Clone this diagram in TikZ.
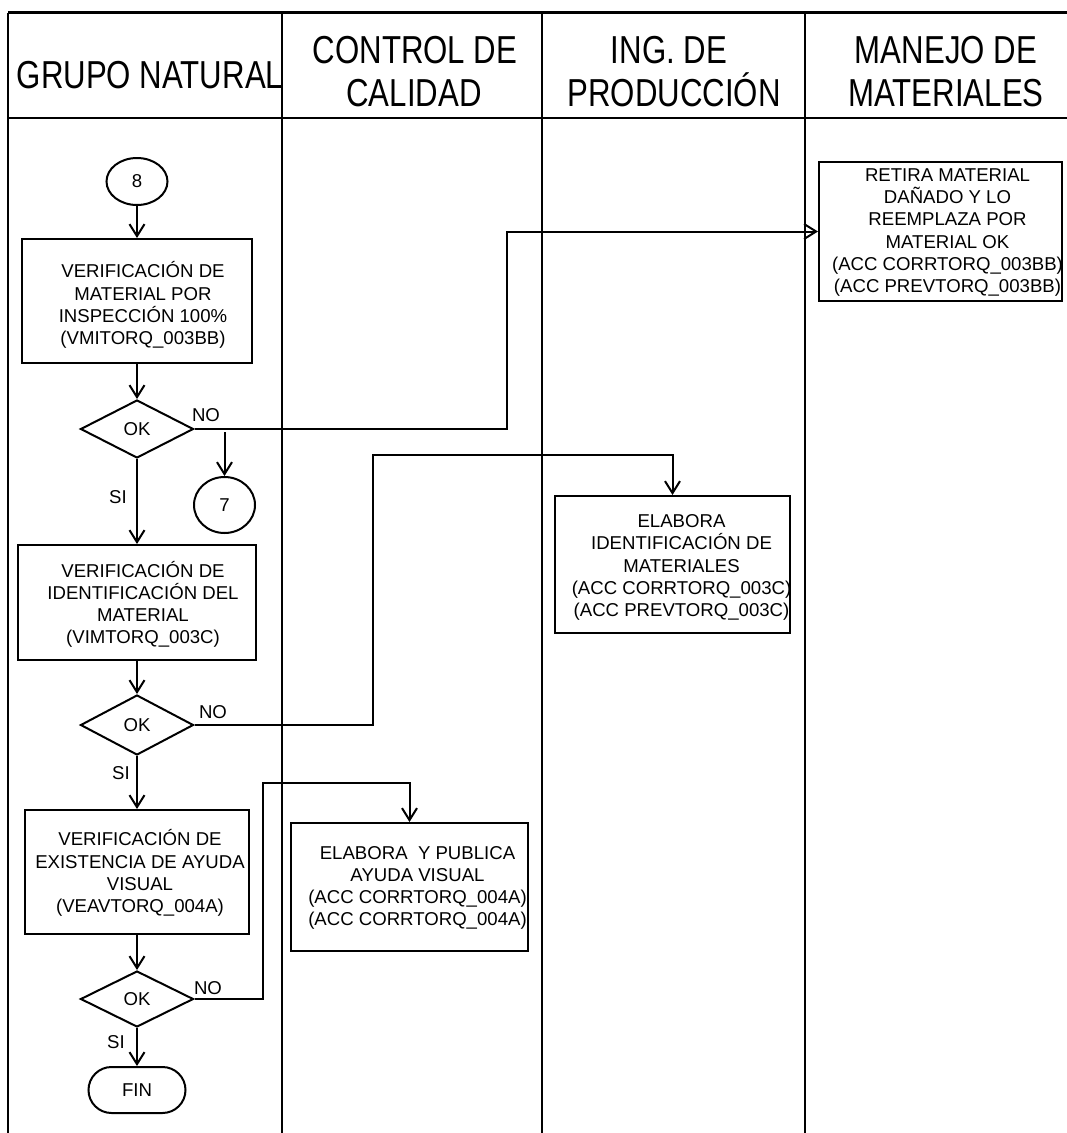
\documentclass[tikz,border=0pt]{standalone}
\usepackage{fontspec}
\setmainfont{Liberation Sans}
\newfontfamily\hdfont[FakeStretch=0.8]{Liberation Sans}
\usetikzlibrary{shapes.geometric,arrows.meta}

\tikzset{
  lane/.style={line width=2.2pt},
  head/.style={font=\hdfont\fontsize{39}{43}\selectfont, inner sep=0pt, anchor=base},
  txt/.style={font=\fontsize{18.6}{22.2}\selectfont},
  box/.style={draw, line width=2pt, rectangle, inner sep=0pt},
  boxtext/.style={txt, inner sep=0pt, align=center},
  deci/.style={txt, draw, line width=2pt, diamond, aspect=1.95, inner sep=0pt,
               minimum width=113pt, minimum height=58pt},
  conn/.style={txt, draw, line width=2pt, ellipse, inner sep=0pt, minimum width=61pt},
  term/.style={txt, draw, line width=2pt, rectangle, rounded corners=23pt, inner sep=0pt,
               minimum width=97pt, minimum height=46pt},
  lbl/.style={txt, inner sep=0pt},
  flow/.style={line width=2pt, -{Straight Barb[length=12pt,width=15pt,line width=2pt]}},
}

\begin{document}
\begin{tikzpicture}[x=1pt, y=-1pt]
\useasboundingbox (0,0) rectangle (1067,1133);

% swimlane grid
\draw[lane] (8,12.5) -- (1067,12.5);
\draw[lane] (8,118) -- (1067,118);
\foreach \xl in {8,282,542,805} \draw[lane] (\xl,12.5) -- (\xl,1133);

% lane titles
\node[head] (h1)  at (150,88)  {GRUPO NATURAL};
\node[head] (h2a) at (415,63)  {CONTROL DE};
\node[head] (h2b) at (414,106) {CALIDAD};
\node[head] (h3a) at (669,63)  {ING. DE};
\node[head] (h3b) at (674,106) {PRODUCCIÓN};
\node[head] (h4a) at (946,63)  {MANEJO DE};
\node[head] (h4b) at (946,106) {MATERIALES};

% main flow, GRUPO NATURAL
\node[conn, minimum height=47pt] (c8) at (137,181.5) {8};
\node[box, minimum width=230pt, minimum height=124pt] (b1) at (137,301) {};
\node[boxtext] (b1t) at ([xshift=6pt,yshift=-4pt]b1.center)
  {VERIFICACIÓN DE\\MATERIAL POR\\INSPECCIÓN 100\%\\(VMITORQ\_003BB)};
\node[deci] (d1) at (137,429) {OK};
\node[conn, minimum height=56pt] (c7) at (224.5,505) {7};
\node[box, minimum width=238pt, minimum height=115pt] (b2) at (137,602.5) {};
\node[boxtext] (b2t) at ([xshift=6pt,yshift=-2pt]b2.center)
  {VERIFICACIÓN DE\\IDENTIFICACIÓN DEL\\MATERIAL\\(VIMTORQ\_003C)};
\node[deci, minimum height=60pt] (d2) at (137,725) {OK};
\node[box, minimum width=224pt, minimum height=124pt] (b3) at (137,872) {};
\node[boxtext] (b3t) at ([xshift=3pt,yshift=-1pt]b3.center)
  {VERIFICACIÓN DE\\EXISTENCIA DE AYUDA\\VISUAL\\(VEAVTORQ\_004A)};
\node[deci, minimum height=56pt] (d3) at (137,999) {OK};
\node[term] (fin) at (137,1090) {FIN};

% corrective actions in the other lanes
\node[box, minimum width=243pt, minimum height=139pt] (r1) at (940.5,231.5) {};
\node[boxtext] (r1t) at ([xshift=7pt,yshift=-1pt]r1.center)
  {RETIRA MATERIAL\\DAÑADO Y LO\\REEMPLAZA POR\\MATERIAL OK\\(ACC CORRTORQ\_003BB)\\(ACC PREVTORQ\_003BB)};
\node[box, minimum width=235pt, minimum height=137pt] (e1) at (672.5,564.5) {};
\node[boxtext] (e1t) at ([xshift=9pt,yshift=-3pt]e1.center)
  {ELABORA\\IDENTIFICACIÓN DE\\MATERIALES\\(ACC CORRTORQ\_003C)\\(ACC PREVTORQ\_003C)};
\node[box, minimum width=237pt, minimum height=128pt] (p1) at (409.5,887) {};
\node[boxtext] (p1t) at ([xshift=8pt,yshift=-1pt]p1.center)
  {ELABORA\ \ Y PUBLICA\\AYUDA VISUAL\\(ACC CORRTORQ\_004A)\\(ACC CORRTORQ\_004A)};

% branch labels
\node[lbl] (no1) at (206,415) {NO};
\node[lbl] (no2) at (213,712) {NO};
\node[lbl] (no3) at (208,988) {NO};
\node[lbl] (si1) at (118,497) {SI};
\node[lbl] (si2) at (121,773) {SI};
\node[lbl] (si3) at (116,1042) {SI};

% connectors
\draw[flow] (c8) -- (b1);
\draw[flow] (b1) -- (d1);
\draw[flow] (d1) -- (b2);
\draw[flow] (b2) -- (d2);
\draw[flow] (d2) -- (b3);
\draw[flow] (b3) -- (d3);
\draw[flow] (d3) -- (fin);

\coordinate (k1) at (507,429);
\draw[flow] (d1.east) -- (k1) |- (r1.west);
\coordinate (k7) at (224.5,432);
\draw[flow] (k7) -- (c7.north);

\coordinate (k2) at (373,725);
\coordinate (k2t) at (373,455);
\draw[flow] (d2.east) -- (k2) -- (k2t) -| (e1.north);

\coordinate (k3) at (263,999);
\coordinate (k3t) at (263,783);
\draw[flow] (d3.east) -- (k3) -- (k3t) -| (p1.north);
\end{tikzpicture}
\end{document}
